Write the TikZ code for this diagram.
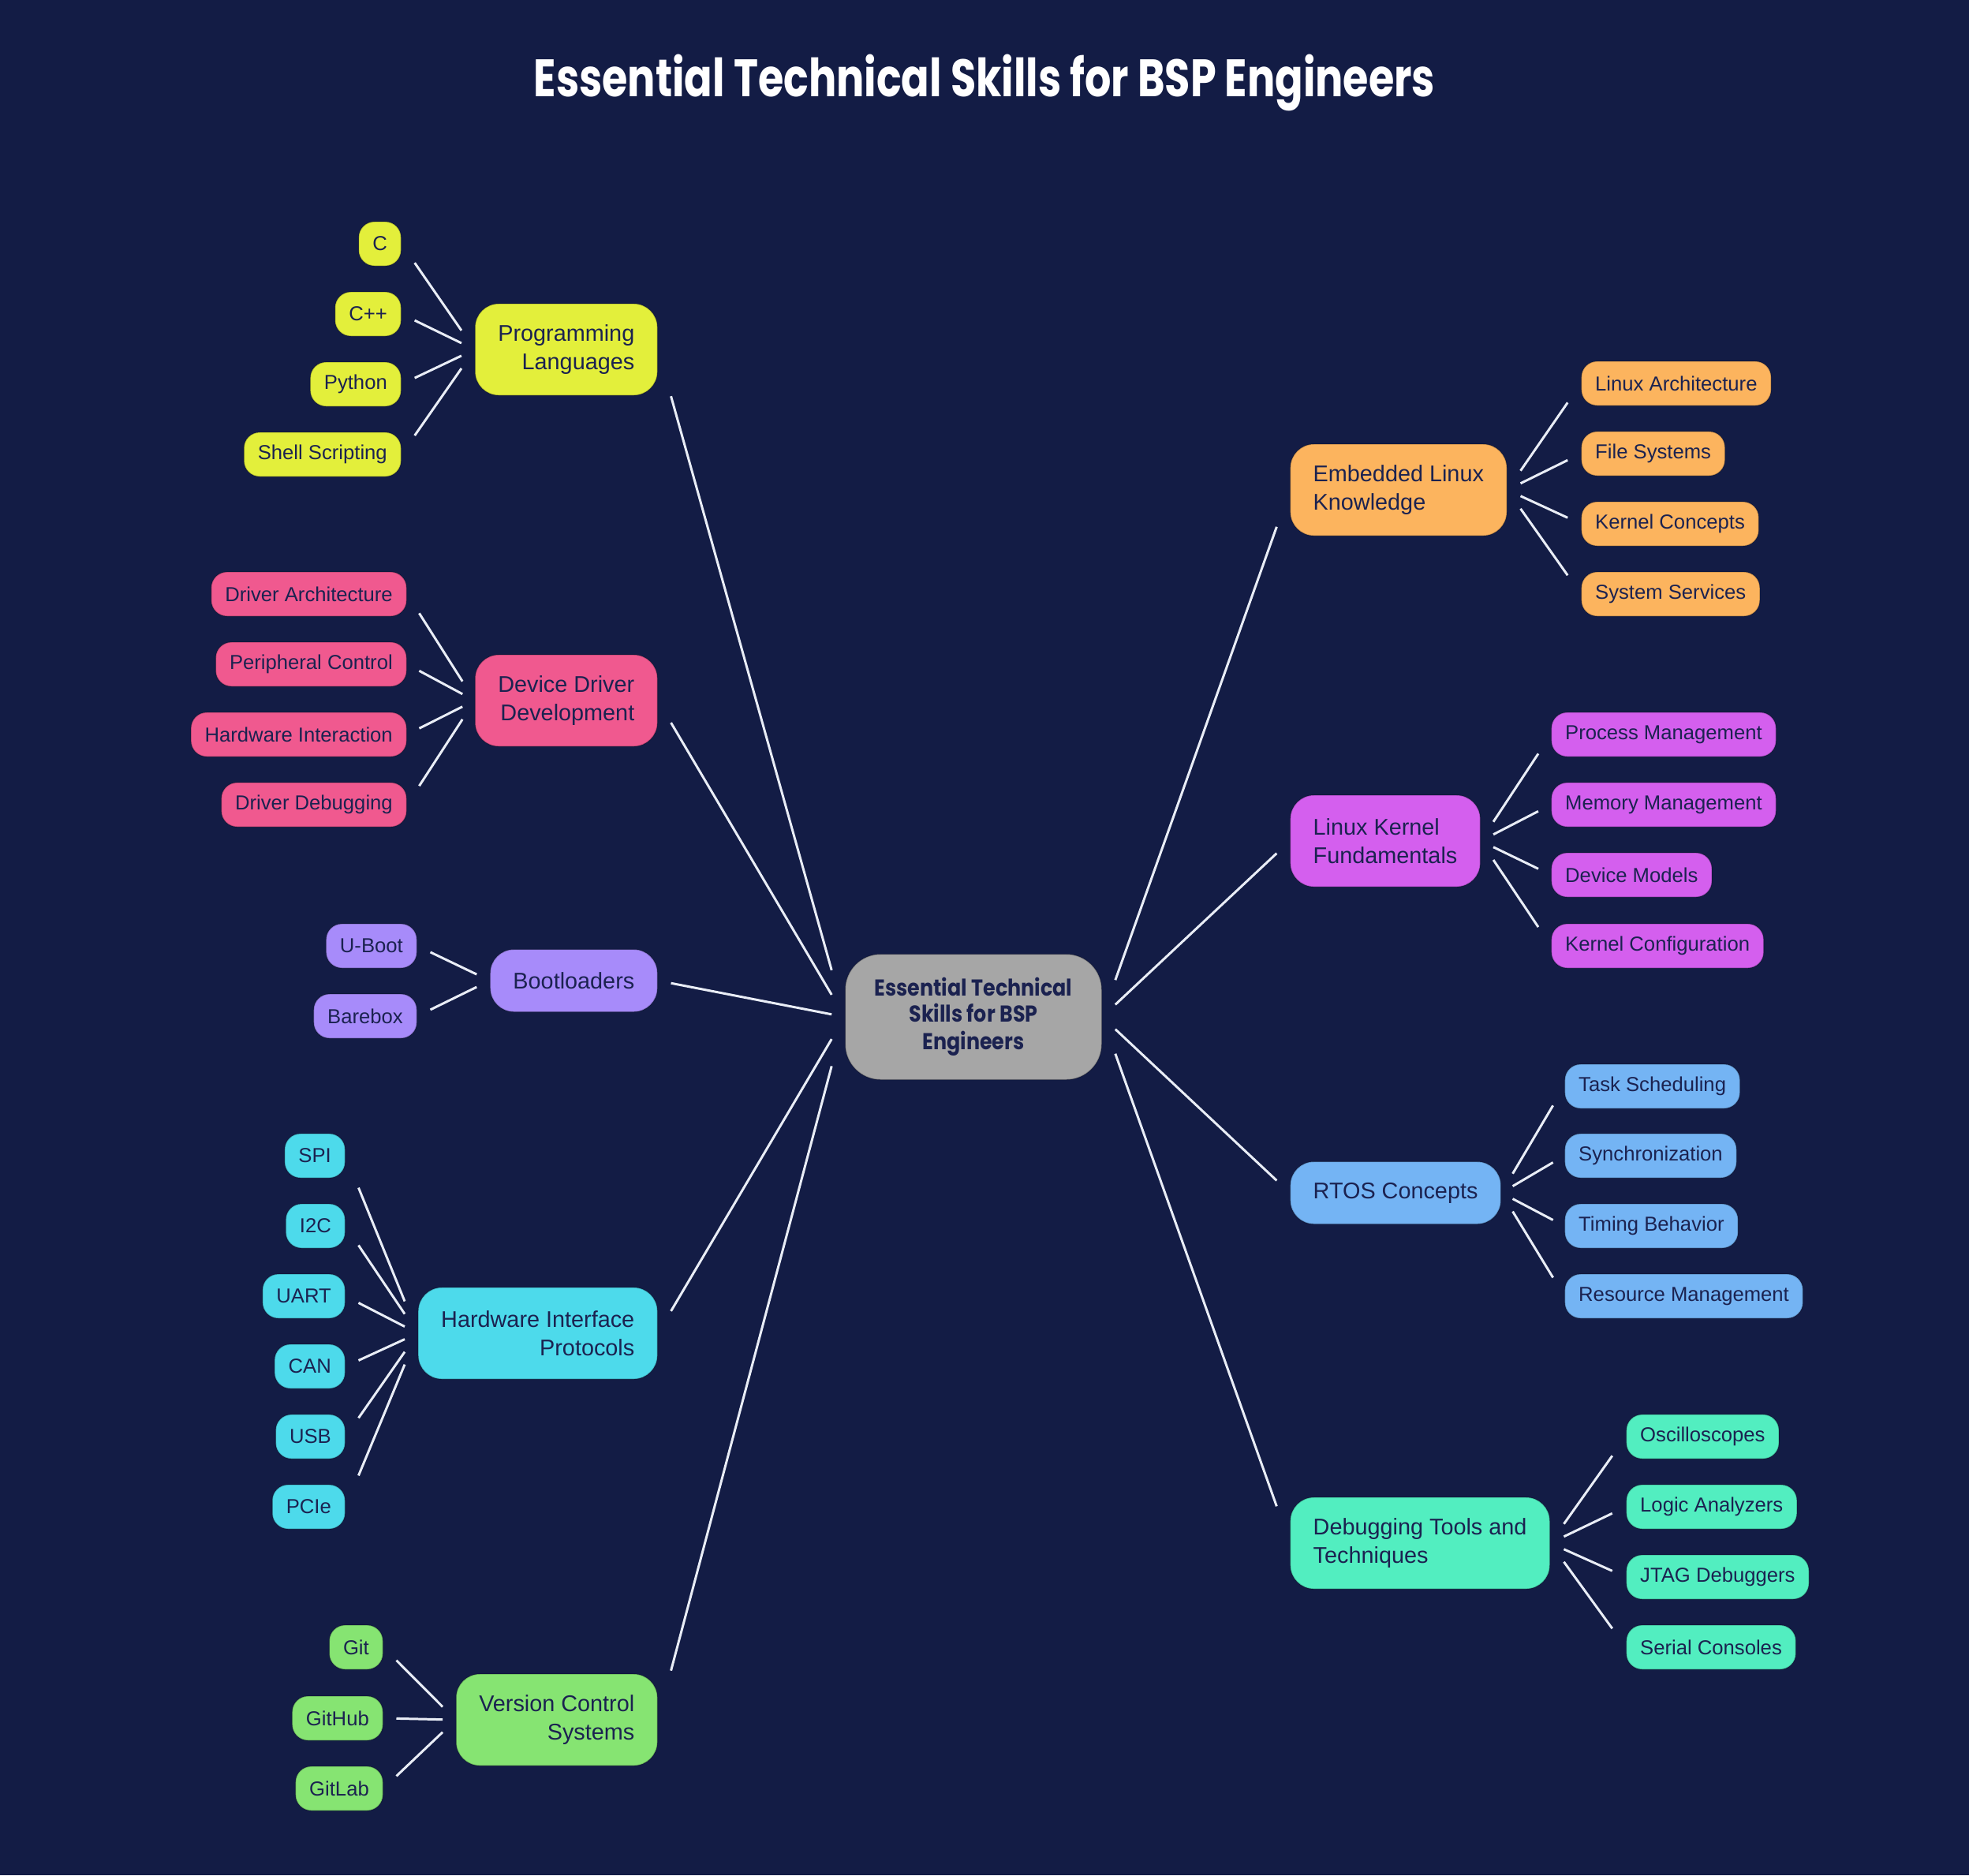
\documentclass[tikz,border=0pt]{standalone}
\usepackage{fontspec}
\setmainfont{Liberation Sans}
\newfontfamily\headfont[FakeStretch=0.785]{Poppins}
\newfontfamily\hubfont[FakeStretch=0.87]{Poppins}
\usetikzlibrary{calc}

\definecolor{bgnavy}{HTML}{131C45}
\definecolor{inknavy}{HTML}{1B2250}
\definecolor{linkwhite}{HTML}{E9EDF6}
\definecolor{hubgray}{HTML}{A6A6A6}
\definecolor{langyellow}{HTML}{E3EF3B}
\definecolor{drvpink}{HTML}{F0598F}
\definecolor{bootviolet}{HTML}{A78BFA}
\definecolor{hwcyan}{HTML}{4DDAEB}
\definecolor{vcsgreen}{HTML}{86E472}
\definecolor{linuxorange}{HTML}{FCB45E}
\definecolor{kernmagenta}{HTML}{D45FEE}
\definecolor{rtosblue}{HTML}{74B4F4}
\definecolor{dbgteal}{HTML}{52EEC0}

\tikzset{
  leaf/.style={rounded corners=0.2cm, minimum height=0.56cm, inner xsep=0.175cm,
    inner ysep=0pt, draw=black, draw opacity=0.2, line width=0.4pt,
    font=\fontsize{7.3}{9}\selectfont, text=inknavy},
  branch/.style={rounded corners=0.3cm, minimum height=1.16cm, inner xsep=0.29cm,
    inner ysep=0.1cm, draw=black, draw opacity=0.2, line width=0.4pt,
    font=\fontsize{8.2}{10.4}\selectfont, text=inknavy},
  hub/.style={rounded corners=0.45cm, minimum width=3.25cm, minimum height=1.59cm,
    fill=hubgray, draw=black, draw opacity=0.2, line width=0.4pt, align=center,
    font=\hubfont\bfseries\fontsize{8.3}{10}\selectfont, text=inknavy},
  link/.style={draw=linkwhite, line width=0.85pt},
}

\begin{document}
\begin{tikzpicture}
\fill[bgnavy] (0,0) rectangle (24.96,-23.77);
\useasboundingbox (0,0) rectangle (24.96,-23.77);

\node[font=\headfont\bfseries\fontsize{19}{22}\selectfont, text=white, anchor=base]
  (title) at (12.48,-1.22) {Essential Technical Skills for BSP Engineers};

% centre
\node[hub] (hub) at (12.34,-12.89) {\raisebox{-0.6pt}{Essential Technical}\\Skills for BSP\\Engineers};

% left branches
\node[branch, fill=langyellow, align=right, anchor=east] (lang) at (8.34,-4.43) {Programming\\Languages};
\node[branch, fill=drvpink, align=right, anchor=east] (drv) at (8.34,-8.88) {Device Driver\\Development};
\node[branch, fill=bootviolet, minimum height=0.79cm, anchor=east] (boot) at (8.34,-12.43) {Bootloaders};
\node[branch, fill=hwcyan, align=right, anchor=east] (hw) at (8.34,-16.90) {Hardware Interface\\Protocols};
\node[branch, fill=vcsgreen, align=right, anchor=east] (vcs) at (8.34,-21.80) {Version Control\\Systems};

% right branches
\node[branch, fill=linuxorange, align=left, anchor=west] (elk) at (16.35,-6.21) {Embedded Linux\\Knowledge};
\node[branch, fill=kernmagenta, align=left, anchor=west] (kern) at (16.35,-10.66) {Linux Kernel\\Fundamentals};
\node[branch, fill=rtosblue, minimum height=0.79cm, anchor=west] (rtos) at (16.35,-15.12) {RTOS Concepts};
\node[branch, fill=dbgteal, align=left, anchor=west] (dbg) at (16.35,-19.56) {Debugging Tools and\\Techniques};

% programming languages
\node[leaf, fill=langyellow, anchor=east] (c)      at (5.09,-3.09) {C};
\node[leaf, fill=langyellow, anchor=east] (cpp)    at (5.09,-3.98) {C++};
\node[leaf, fill=langyellow, anchor=east] (python) at (5.09,-4.87) {Python};
\node[leaf, fill=langyellow, anchor=east] (shell)  at (5.09,-5.76) {Shell Scripting};

% device drivers
\node[leaf, fill=drvpink, anchor=east] (drvarch) at (5.16,-7.53)  {Driver Architecture};
\node[leaf, fill=drvpink, anchor=east] (periph)  at (5.16,-8.42)  {Peripheral Control};
\node[leaf, fill=drvpink, anchor=east] (hwint)   at (5.16,-9.31)  {Hardware Interaction};
\node[leaf, fill=drvpink, anchor=east] (drvdbg)  at (5.16,-10.20) {Driver Debugging};

% bootloaders
\node[leaf, fill=bootviolet, anchor=east] (uboot)   at (5.29,-11.99) {U-Boot};
\node[leaf, fill=bootviolet, anchor=east] (barebox) at (5.29,-12.88) {Barebox};

% hardware interfaces
\node[leaf, fill=hwcyan, anchor=east] (spi)   at (4.38,-14.65) {SPI};
\node[leaf, fill=hwcyan, anchor=east] (itwoc) at (4.38,-15.54) {I2C};
\node[leaf, fill=hwcyan, anchor=east] (uart)  at (4.38,-16.43) {UART};
\node[leaf, fill=hwcyan, anchor=east] (can)   at (4.38,-17.32) {CAN};
\node[leaf, fill=hwcyan, anchor=east] (usb)   at (4.38,-18.21) {USB};
\node[leaf, fill=hwcyan, anchor=east] (pcie)  at (4.38,-19.10) {PCIe};

% version control
\node[leaf, fill=vcsgreen, anchor=east] (git)    at (4.86,-20.88) {Git};
\node[leaf, fill=vcsgreen, anchor=east] (github) at (4.86,-21.78) {GitHub};
\node[leaf, fill=vcsgreen, anchor=east] (gitlab) at (4.86,-22.67) {GitLab};

% embedded linux
\node[leaf, fill=linuxorange, anchor=west] (linarch) at (20.04,-4.86) {Linux Architecture};
\node[leaf, fill=linuxorange, anchor=west] (filesys) at (20.04,-5.75) {File Systems};
\node[leaf, fill=linuxorange, anchor=west] (kconc)   at (20.04,-6.64) {Kernel Concepts};
\node[leaf, fill=linuxorange, anchor=west] (syssvc)  at (20.04,-7.53) {System Services};

% kernel
\node[leaf, fill=kernmagenta, anchor=west] (procmgmt) at (19.66,-9.31)  {Process Management};
\node[leaf, fill=kernmagenta, anchor=west] (memmgmt)  at (19.66,-10.20) {Memory Management};
\node[leaf, fill=kernmagenta, anchor=west] (devmodel) at (19.66,-11.09) {Device Models};
\node[leaf, fill=kernmagenta, anchor=west] (kconf)    at (19.66,-11.99) {Kernel Configuration};

% rtos
\node[leaf, fill=rtosblue, anchor=west] (tasksched) at (19.83,-13.77) {Task Scheduling};
\node[leaf, fill=rtosblue, anchor=west] (sync)      at (19.83,-14.65) {Synchronization};
\node[leaf, fill=rtosblue, anchor=west] (timing)    at (19.83,-15.54) {Timing Behavior};
\node[leaf, fill=rtosblue, anchor=west] (resmgmt)   at (19.83,-16.43) {Resource Management};

% debugging
\node[leaf, fill=dbgteal, anchor=west] (scope)  at (20.61,-18.21) {Oscilloscopes};
\node[leaf, fill=dbgteal, anchor=west] (logic)  at (20.61,-19.10) {Logic Analyzers};
\node[leaf, fill=dbgteal, anchor=west] (jtag)   at (20.61,-19.99) {JTAG Debuggers};
\node[leaf, fill=dbgteal, anchor=west] (serial) at (20.61,-20.88) {Serial Consoles};

% centre to branches
\draw[link] ($(lang.east)!.07!(hub.west)$) -- ($(lang.east)!.93!(hub.west)$);
\draw[link] ($(drv.east)!.07!(hub.west)$)  -- ($(drv.east)!.93!(hub.west)$);
\draw[link] ($(boot.east)!.07!(hub.west)$) -- ($(boot.east)!.93!(hub.west)$);
\draw[link] ($(hw.east)!.07!(hub.west)$)   -- ($(hw.east)!.93!(hub.west)$);
\draw[link] ($(vcs.east)!.07!(hub.west)$)  -- ($(vcs.east)!.93!(hub.west)$);
\draw[link] ($(hub.east)!.07!(elk.west)$)  -- ($(hub.east)!.93!(elk.west)$);
\draw[link] ($(hub.east)!.07!(kern.west)$) -- ($(hub.east)!.93!(kern.west)$);
\draw[link] ($(hub.east)!.07!(rtos.west)$) -- ($(hub.east)!.93!(rtos.west)$);
\draw[link] ($(hub.east)!.07!(dbg.west)$)  -- ($(hub.east)!.93!(dbg.west)$);

% branches to leaves
\draw[link] ($(c.east)!.18!(lang.west)$)      -- ($(c.east)!.82!(lang.west)$);
\draw[link] ($(cpp.east)!.18!(lang.west)$)    -- ($(cpp.east)!.82!(lang.west)$);
\draw[link] ($(python.east)!.18!(lang.west)$) -- ($(python.east)!.82!(lang.west)$);
\draw[link] ($(shell.east)!.18!(lang.west)$)  -- ($(shell.east)!.82!(lang.west)$);

\draw[link] ($(drvarch.east)!.18!(drv.west)$) -- ($(drvarch.east)!.82!(drv.west)$);
\draw[link] ($(periph.east)!.18!(drv.west)$)  -- ($(periph.east)!.82!(drv.west)$);
\draw[link] ($(hwint.east)!.18!(drv.west)$)   -- ($(hwint.east)!.82!(drv.west)$);
\draw[link] ($(drvdbg.east)!.18!(drv.west)$)  -- ($(drvdbg.east)!.82!(drv.west)$);

\draw[link] ($(uboot.east)!.18!(boot.west)$)   -- ($(uboot.east)!.82!(boot.west)$);
\draw[link] ($(barebox.east)!.18!(boot.west)$) -- ($(barebox.east)!.82!(boot.west)$);

\draw[link] ($(spi.east)!.18!(hw.west)$)   -- ($(spi.east)!.82!(hw.west)$);
\draw[link] ($(itwoc.east)!.18!(hw.west)$) -- ($(itwoc.east)!.82!(hw.west)$);
\draw[link] ($(uart.east)!.18!(hw.west)$)  -- ($(uart.east)!.82!(hw.west)$);
\draw[link] ($(can.east)!.18!(hw.west)$)   -- ($(can.east)!.82!(hw.west)$);
\draw[link] ($(usb.east)!.18!(hw.west)$)   -- ($(usb.east)!.82!(hw.west)$);
\draw[link] ($(pcie.east)!.18!(hw.west)$)  -- ($(pcie.east)!.82!(hw.west)$);

\draw[link] ($(git.east)!.18!(vcs.west)$)    -- ($(git.east)!.82!(vcs.west)$);
\draw[link] ($(github.east)!.18!(vcs.west)$) -- ($(github.east)!.82!(vcs.west)$);
\draw[link] ($(gitlab.east)!.18!(vcs.west)$) -- ($(gitlab.east)!.82!(vcs.west)$);

\draw[link] ($(elk.east)!.18!(linarch.west)$) -- ($(elk.east)!.82!(linarch.west)$);
\draw[link] ($(elk.east)!.18!(filesys.west)$) -- ($(elk.east)!.82!(filesys.west)$);
\draw[link] ($(elk.east)!.18!(kconc.west)$)   -- ($(elk.east)!.82!(kconc.west)$);
\draw[link] ($(elk.east)!.18!(syssvc.west)$)  -- ($(elk.east)!.82!(syssvc.west)$);

\draw[link] ($(kern.east)!.18!(procmgmt.west)$) -- ($(kern.east)!.82!(procmgmt.west)$);
\draw[link] ($(kern.east)!.18!(memmgmt.west)$)  -- ($(kern.east)!.82!(memmgmt.west)$);
\draw[link] ($(kern.east)!.18!(devmodel.west)$) -- ($(kern.east)!.82!(devmodel.west)$);
\draw[link] ($(kern.east)!.18!(kconf.west)$)    -- ($(kern.east)!.82!(kconf.west)$);

\draw[link] ($(rtos.east)!.18!(tasksched.west)$) -- ($(rtos.east)!.82!(tasksched.west)$);
\draw[link] ($(rtos.east)!.18!(sync.west)$)      -- ($(rtos.east)!.82!(sync.west)$);
\draw[link] ($(rtos.east)!.18!(timing.west)$)    -- ($(rtos.east)!.82!(timing.west)$);
\draw[link] ($(rtos.east)!.18!(resmgmt.west)$)   -- ($(rtos.east)!.82!(resmgmt.west)$);

\draw[link] ($(dbg.east)!.18!(scope.west)$)  -- ($(dbg.east)!.82!(scope.west)$);
\draw[link] ($(dbg.east)!.18!(logic.west)$)  -- ($(dbg.east)!.82!(logic.west)$);
\draw[link] ($(dbg.east)!.18!(jtag.west)$)   -- ($(dbg.east)!.82!(jtag.west)$);
\draw[link] ($(dbg.east)!.18!(serial.west)$) -- ($(dbg.east)!.82!(serial.west)$);
\end{tikzpicture}
\end{document}
